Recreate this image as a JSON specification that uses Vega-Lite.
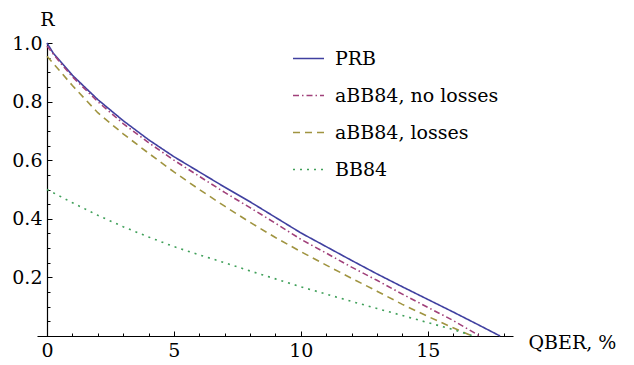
{
  "$schema": "https://vega.github.io/schema/vega-lite/v6.json",
  "width": 476,
  "height": 293,
  "autosize": {"type": "none"},
  "padding": {"left": 37, "top": 43, "right": 121, "bottom": 29},
  "background": "white",
  "config": {"view": {"stroke": null}, "font": "DejaVu Serif"},
  "data": {"values": [
    {"s": "PRB", "q": 0, "r": 1.0}, {"s": "PRB", "q": 0.25, "r": 0.965}, {"s": "PRB", "q": 0.5, "r": 0.94}, {"s": "PRB", "q": 1, "r": 0.89},
    {"s": "PRB", "q": 2, "r": 0.807}, {"s": "PRB", "q": 3, "r": 0.735}, {"s": "PRB", "q": 4, "r": 0.67}, {"s": "PRB", "q": 5, "r": 0.612},
    {"s": "PRB", "q": 6, "r": 0.56}, {"s": "PRB", "q": 7, "r": 0.508}, {"s": "PRB", "q": 8, "r": 0.458}, {"s": "PRB", "q": 9, "r": 0.405},
    {"s": "PRB", "q": 10, "r": 0.352}, {"s": "PRB", "q": 11, "r": 0.305}, {"s": "PRB", "q": 12, "r": 0.258}, {"s": "PRB", "q": 13, "r": 0.212},
    {"s": "PRB", "q": 14, "r": 0.168}, {"s": "PRB", "q": 15, "r": 0.125}, {"s": "PRB", "q": 16, "r": 0.082}, {"s": "PRB", "q": 17, "r": 0.038},
    {"s": "PRB", "q": 17.85, "r": 0},
    {"s": "aBB84, no losses", "q": 0, "r": 0.99}, {"s": "aBB84, no losses", "q": 0.5, "r": 0.935}, {"s": "aBB84, no losses", "q": 1, "r": 0.885},
    {"s": "aBB84, no losses", "q": 2, "r": 0.8}, {"s": "aBB84, no losses", "q": 3, "r": 0.725}, {"s": "aBB84, no losses", "q": 4, "r": 0.66},
    {"s": "aBB84, no losses", "q": 5, "r": 0.6}, {"s": "aBB84, no losses", "q": 6, "r": 0.545}, {"s": "aBB84, no losses", "q": 7, "r": 0.49},
    {"s": "aBB84, no losses", "q": 8, "r": 0.438}, {"s": "aBB84, no losses", "q": 9, "r": 0.385}, {"s": "aBB84, no losses", "q": 10, "r": 0.33},
    {"s": "aBB84, no losses", "q": 11, "r": 0.283}, {"s": "aBB84, no losses", "q": 12, "r": 0.235}, {"s": "aBB84, no losses", "q": 13, "r": 0.19},
    {"s": "aBB84, no losses", "q": 14, "r": 0.143}, {"s": "aBB84, no losses", "q": 15, "r": 0.098}, {"s": "aBB84, no losses", "q": 16, "r": 0.053},
    {"s": "aBB84, no losses", "q": 17.05, "r": 0},
    {"s": "aBB84, losses", "q": 0, "r": 0.955}, {"s": "aBB84, losses", "q": 0.5, "r": 0.905}, {"s": "aBB84, losses", "q": 1, "r": 0.855},
    {"s": "aBB84, losses", "q": 2, "r": 0.762}, {"s": "aBB84, losses", "q": 3, "r": 0.69}, {"s": "aBB84, losses", "q": 4, "r": 0.624},
    {"s": "aBB84, losses", "q": 5, "r": 0.56}, {"s": "aBB84, losses", "q": 6, "r": 0.5}, {"s": "aBB84, losses", "q": 7, "r": 0.443},
    {"s": "aBB84, losses", "q": 8, "r": 0.388}, {"s": "aBB84, losses", "q": 9, "r": 0.336}, {"s": "aBB84, losses", "q": 10, "r": 0.288},
    {"s": "aBB84, losses", "q": 11, "r": 0.242}, {"s": "aBB84, losses", "q": 12, "r": 0.197}, {"s": "aBB84, losses", "q": 13, "r": 0.153},
    {"s": "aBB84, losses", "q": 14, "r": 0.108}, {"s": "aBB84, losses", "q": 15, "r": 0.067}, {"s": "aBB84, losses", "q": 16, "r": 0.028},
    {"s": "aBB84, losses", "q": 16.75, "r": 0},
    {"s": "BB84", "q": 0, "r": 0.5}, {"s": "BB84", "q": 1, "r": 0.455}, {"s": "BB84", "q": 2, "r": 0.412}, {"s": "BB84", "q": 3, "r": 0.373},
    {"s": "BB84", "q": 4, "r": 0.338}, {"s": "BB84", "q": 5, "r": 0.305}, {"s": "BB84", "q": 6, "r": 0.277}, {"s": "BB84", "q": 7, "r": 0.25},
    {"s": "BB84", "q": 8, "r": 0.222}, {"s": "BB84", "q": 9, "r": 0.195}, {"s": "BB84", "q": 10, "r": 0.168}, {"s": "BB84", "q": 11, "r": 0.143},
    {"s": "BB84", "q": 12, "r": 0.118}, {"s": "BB84", "q": 13, "r": 0.094}, {"s": "BB84", "q": 14, "r": 0.07}, {"s": "BB84", "q": 15, "r": 0.046},
    {"s": "BB84", "q": 16, "r": 0.022}, {"s": "BB84", "q": 16.8, "r": 0}
  ]},
  "mark": {"type": "line", "strokeWidth": 1.6, "clip": false},
  "encoding": {
    "x": {
      "field": "q", "type": "quantitative",
      "scale": {"domain": [-0.394, 18.36], "nice": false, "zero": false},
      "axis": {
        "values": [0,1,2,3,4,5,6,7,8,9,10,11,12,13,14,15,16,17,18],
        "labelExpr": "datum.value % 5 === 0 ? datum.label : ''",
        "tickSize": {"condition": {"test": "datum.value % 5 === 0", "value": -5}, "value": -3},
        "grid": false, "domainColor": "black", "tickColor": "black", "domainWidth": 1.2, "tickWidth": 1,
        "labelFont": "DejaVu Serif", "labelFontSize": 19, "labelColor": "black", "labelPadding": 10, "labelFlush": false, "labelOverlap": false,
        "title": "QBER, %", "titleFont": "DejaVu Serif", "titleFontSize": 19, "titleFontWeight": "normal", "titleColor": "black",
        "titleX": 491, "titleY": 6, "titleAlign": "left", "titleBaseline": "middle", "titleAnchor": null, "titleLimit": 0
      }
    },
    "y": {
      "field": "r", "type": "quantitative",
      "scale": {"domain": [0, 1], "nice": false},
      "axis": {
        "values": [0,0.05,0.1,0.15,0.2,0.25,0.3,0.35,0.4,0.45,0.5,0.55,0.6,0.65,0.7,0.75,0.8,0.85,0.9,0.95,1],
        "labelExpr": "(datum.value > 0.01 && abs(datum.value*5 - round(datum.value*5)) < 0.001) ? format(datum.value, '.1f') : ''",
        "tickSize": {"condition": {"test": "abs(datum.value*5 - round(datum.value*5)) < 0.001", "value": -5}, "value": -3},
        "offset": -10,
        "grid": false, "domainColor": "black", "tickColor": "black", "domainWidth": 1.2, "tickWidth": 1,
        "labelFont": "DejaVu Serif", "labelFontSize": 19, "labelColor": "black", "labelPadding": 10, "labelFlush": false, "labelOverlap": false,
        "title": "R", "titleFont": "DejaVu Serif", "titleFontSize": 19, "titleFontWeight": "normal", "titleColor": "black", "titleAngle": 0,
        "titleX": 0, "titleY": -18, "titleAlign": "center", "titleBaseline": "alphabetic", "titleAnchor": null
      }
    },
    "color": {
      "field": "s", "type": "nominal",
      "scale": {"domain": ["PRB", "aBB84, no losses", "aBB84, losses", "BB84"], "range": ["#4040a0", "#a0407a", "#a09440", "#40a05a"]},
      "legend": {"orient": "none", "legendX": 255, "legendY": -1, "title": null, "symbolType": "stroke", "symbolSize": 961, "symbolStrokeWidth": 1.6,
        "labelFont": "DejaVu Serif", "labelFontSize": 19, "labelColor": "black", "labelOffset": 10, "labelLimit": 0, "rowPadding": 10, "padding": 0}
    },
    "strokeDash": {
      "field": "s", "type": "nominal",
      "scale": {"domain": ["PRB", "aBB84, no losses", "aBB84, losses", "BB84"], "range": [[1, 0], [6, 3, 1.5, 3], [7, 5], [2, 5]]},
      "legend": {"orient": "none", "legendX": 255, "legendY": -1, "title": null, "symbolType": "stroke", "symbolSize": 961, "symbolStrokeWidth": 1.6,
        "labelFont": "DejaVu Serif", "labelFontSize": 19, "labelColor": "black", "labelOffset": 10, "labelLimit": 0, "rowPadding": 10, "padding": 0}
    }
  }
}
